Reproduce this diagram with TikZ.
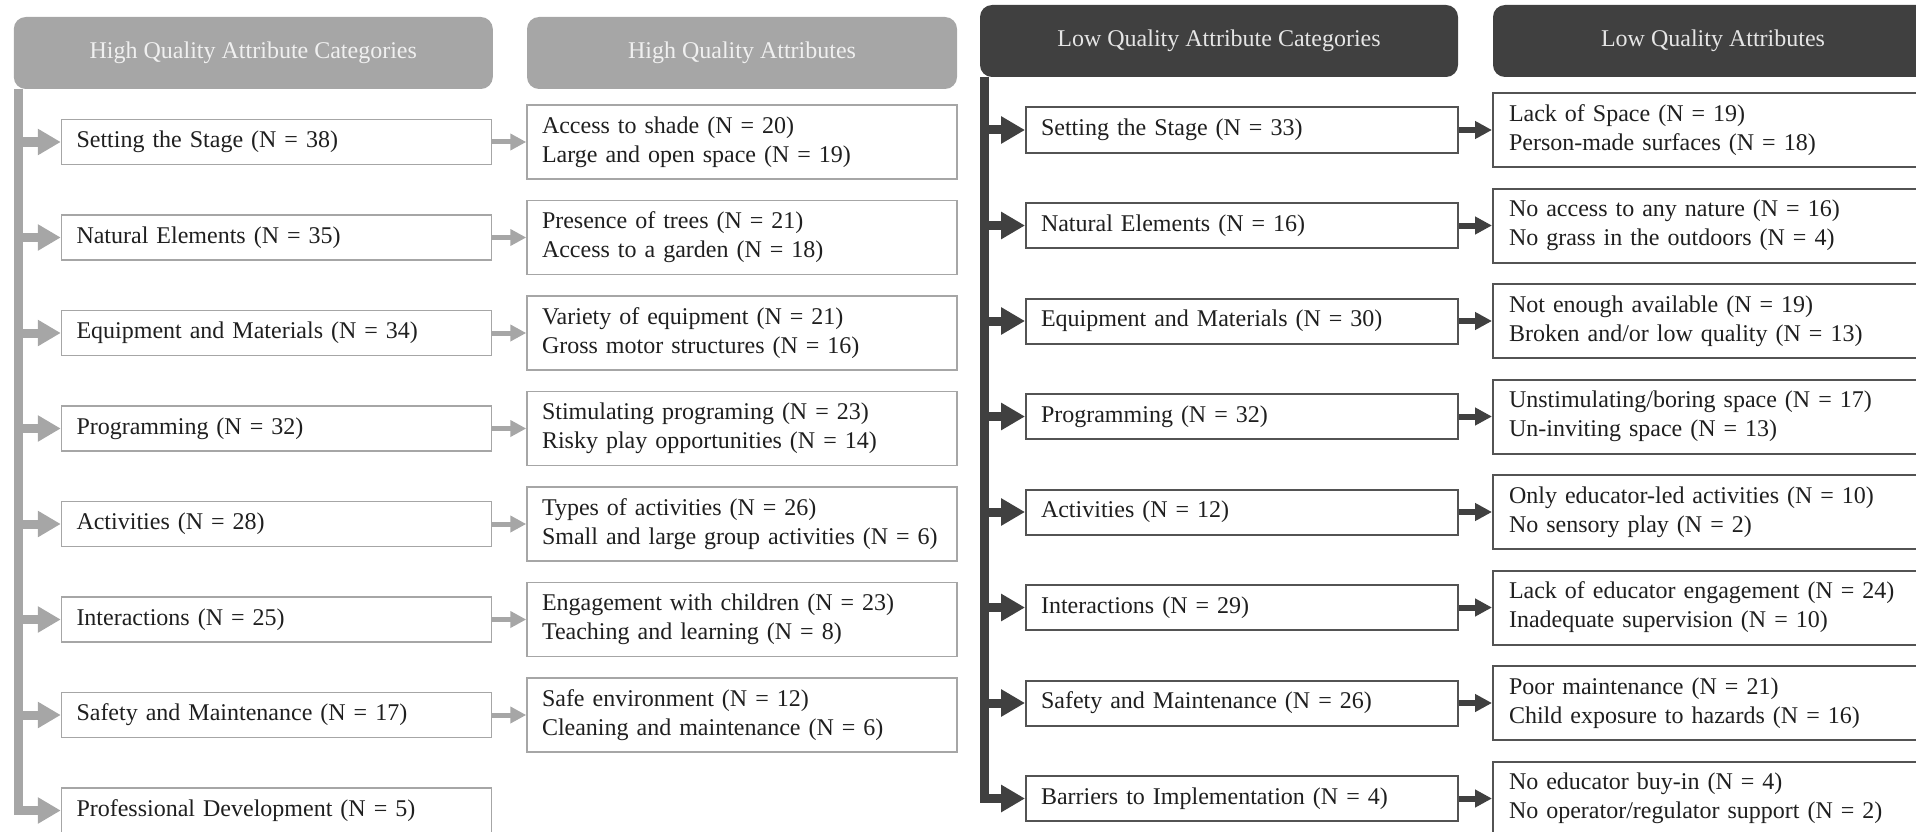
\documentclass[tikz,border=0pt]{standalone}
\usepackage{fontspec}
\setmainfont{Liberation Serif}
\usetikzlibrary{shapes,arrows.meta}

\definecolor{hqgray}{HTML}{A6A6A6}
\definecolor{lqdark}{HTML}{404040}
\definecolor{boxtext}{HTML}{1F1F1F}

\tikzstyle{hqhead} = [fill=hqgray, text=white!94!black, rounded corners=12pt,
    minimum height=72pt, inner sep=0pt]
\tikzstyle{lqhead} = [fill=lqdark, text=white!90!black, rounded corners=12pt,
    minimum height=72pt, inner sep=0pt]
\tikzstyle{hqcat} = [draw=hqgray, line width=1.5pt, fill=white, text=boxtext,
    text width=400pt, align=left, inner xsep=15pt, inner ysep=0pt, minimum height=45pt]
\tikzstyle{hqattr} = [hqcat, minimum height=74pt]
\tikzstyle{lqcat} = [draw=lqdark!90, line width=2pt, fill=white, text=boxtext,
    text width=402pt, align=left, inner xsep=15pt, inner ysep=0pt, minimum height=45pt]
\tikzstyle{lqattr} = [lqcat, text width=408pt, inner xsep=16pt, minimum height=74pt]
\tikzstyle{hqstub} = [draw=hqgray, line width=9pt, -{Triangle[length=23pt,width=25pt]}]
\tikzstyle{lqstub} = [draw=lqdark, line width=9pt, -{Triangle[length=24pt,width=26pt]}]
\tikzstyle{hqlink} = [draw=hqgray, line width=5pt, -{Triangle[length=16pt,width=16pt]}]
\tikzstyle{lqlink} = [draw=lqdark, line width=6pt, -{Triangle[length=17pt,width=17pt]}]

\begin{document}
\begin{tikzpicture}[x=1pt, y=1pt, node distance=95.5pt, font=\fontsize{24}{29}\selectfont]

    \useasboundingbox (0,0) rectangle (1916,-832);
    \clip (0,0) rectangle (1916,-832);

    % high quality side
    \node [hqhead, minimum width=479pt] (hqcathead) at (253.3,-53) {High Quality Attribute Categories};
    \node [hqhead, minimum width=430pt] (hqattrhead) at (742,-53) {High Quality Attributes};

    \node [hqcat] (hqc1) at (276.5,-142) {Setting the Stage (N = 38)};
    \node [hqcat, below of=hqc1] (hqc2) {Natural Elements (N = 35)};
    \node [hqcat, below of=hqc2] (hqc3) {Equipment and Materials (N = 34)};
    \node [hqcat, below of=hqc3] (hqc4) {Programming (N = 32)};
    \node [hqcat, below of=hqc4] (hqc5) {Activities (N = 28)};
    \node [hqcat, below of=hqc5] (hqc6) {Interactions (N = 25)};
    \node [hqcat, below of=hqc6] (hqc7) {Safety and Maintenance (N = 17)};
    \node [hqcat, below of=hqc7] (hqc8) {Professional Development (N = 5)};

    \node [hqattr, right of=hqc1, node distance=465.5pt] (hqa1) {Access to shade (N = 20)\\Large and open space (N = 19)};
    \node [hqattr, right of=hqc2, node distance=465.5pt] (hqa2) {Presence of trees (N = 21)\\Access to a garden (N = 18)};
    \node [hqattr, right of=hqc3, node distance=465.5pt] (hqa3) {Variety of equipment (N = 21)\\Gross motor structures (N = 16)};
    \node [hqattr, right of=hqc4, node distance=465.5pt] (hqa4) {Stimulating programing (N = 23)\\Risky play opportunities (N = 14)};
    \node [hqattr, right of=hqc5, node distance=465.5pt] (hqa5) {Types of activities (N = 26)\\Small and large group activities (N = 6)};
    \node [hqattr, right of=hqc6, node distance=465.5pt] (hqa6) {Engagement with children (N = 23)\\Teaching and learning (N = 8)};
    \node [hqattr, right of=hqc7, node distance=465.5pt] (hqa7) {Safe environment (N = 12)\\Cleaning and maintenance (N = 6)};

    \coordinate (hqtop) at ([xshift=4.5pt]hqcathead.south west);
    \draw [hqstub] (hqtop) |- (hqc8.west);
    \draw [hqstub] (hqtop |- hqc1.west) -- (hqc1.west);
    \draw [hqstub] (hqtop |- hqc2.west) -- (hqc2.west);
    \draw [hqstub] (hqtop |- hqc3.west) -- (hqc3.west);
    \draw [hqstub] (hqtop |- hqc4.west) -- (hqc4.west);
    \draw [hqstub] (hqtop |- hqc5.west) -- (hqc5.west);
    \draw [hqstub] (hqtop |- hqc6.west) -- (hqc6.west);
    \draw [hqstub] (hqtop |- hqc7.west) -- (hqc7.west);

    \draw [hqlink] (hqc1) -- (hqa1);
    \draw [hqlink] (hqc2) -- (hqa2);
    \draw [hqlink] (hqc3) -- (hqa3);
    \draw [hqlink] (hqc4) -- (hqa4);
    \draw [hqlink] (hqc5) -- (hqa5);
    \draw [hqlink] (hqc6) -- (hqa6);
    \draw [hqlink] (hqc7) -- (hqa7);

    % low quality side
    \node [lqhead, minimum width=478pt] (lqcathead) at (1219,-41) {Low Quality Attribute Categories};
    \node [lqhead, minimum width=440pt] (lqattrhead) at (1713,-41) {Low Quality Attributes};

    \node [lqcat] (lqc1) at (1242,-130) {Setting the Stage (N = 33)};
    \node [lqcat, below of=lqc1] (lqc2) {Natural Elements (N = 16)};
    \node [lqcat, below of=lqc2] (lqc3) {Equipment and Materials (N = 30)};
    \node [lqcat, below of=lqc3] (lqc4) {Programming (N = 32)};
    \node [lqcat, below of=lqc4] (lqc5) {Activities (N = 12)};
    \node [lqcat, below of=lqc5] (lqc6) {Interactions (N = 29)};
    \node [lqcat, below of=lqc6] (lqc7) {Safety and Maintenance (N = 26)};
    \node [lqcat, below of=lqc7] (lqc8) {Barriers to Implementation (N = 4)};

    \node [lqattr, right of=lqc1, node distance=471pt] (lqa1) {Lack of Space (N = 19)\\Person-made surfaces (N = 18)};
    \node [lqattr, right of=lqc2, node distance=471pt] (lqa2) {No access to any nature (N = 16)\\No grass in the outdoors (N = 4)};
    \node [lqattr, right of=lqc3, node distance=471pt] (lqa3) {Not enough available (N = 19)\\Broken and/or low quality (N = 13)};
    \node [lqattr, right of=lqc4, node distance=471pt] (lqa4) {Unstimulating/boring space (N = 17)\\Un-inviting space (N = 13)};
    \node [lqattr, right of=lqc5, node distance=471pt] (lqa5) {Only educator-led activities (N = 10)\\No sensory play (N = 2)};
    \node [lqattr, right of=lqc6, node distance=471pt] (lqa6) {Lack of educator engagement (N = 24)\\Inadequate supervision (N = 10)};
    \node [lqattr, right of=lqc7, node distance=471pt] (lqa7) {Poor maintenance (N = 21)\\Child exposure to hazards (N = 16)};
    \node [lqattr, right of=lqc8, node distance=471pt] (lqa8) {No educator buy-in (N = 4)\\No operator/regulator support (N = 2)};

    \coordinate (lqtop) at ([xshift=4.5pt]lqcathead.south west);
    \draw [lqstub] (lqtop) |- (lqc8.west);
    \draw [lqstub] (lqtop |- lqc1.west) -- (lqc1.west);
    \draw [lqstub] (lqtop |- lqc2.west) -- (lqc2.west);
    \draw [lqstub] (lqtop |- lqc3.west) -- (lqc3.west);
    \draw [lqstub] (lqtop |- lqc4.west) -- (lqc4.west);
    \draw [lqstub] (lqtop |- lqc5.west) -- (lqc5.west);
    \draw [lqstub] (lqtop |- lqc6.west) -- (lqc6.west);
    \draw [lqstub] (lqtop |- lqc7.west) -- (lqc7.west);

    \draw [lqlink] (lqc1) -- (lqa1);
    \draw [lqlink] (lqc2) -- (lqa2);
    \draw [lqlink] (lqc3) -- (lqa3);
    \draw [lqlink] (lqc4) -- (lqa4);
    \draw [lqlink] (lqc5) -- (lqa5);
    \draw [lqlink] (lqc6) -- (lqa6);
    \draw [lqlink] (lqc7) -- (lqa7);
    \draw [lqlink] (lqc8) -- (lqa8);
\end{tikzpicture}
\end{document}
